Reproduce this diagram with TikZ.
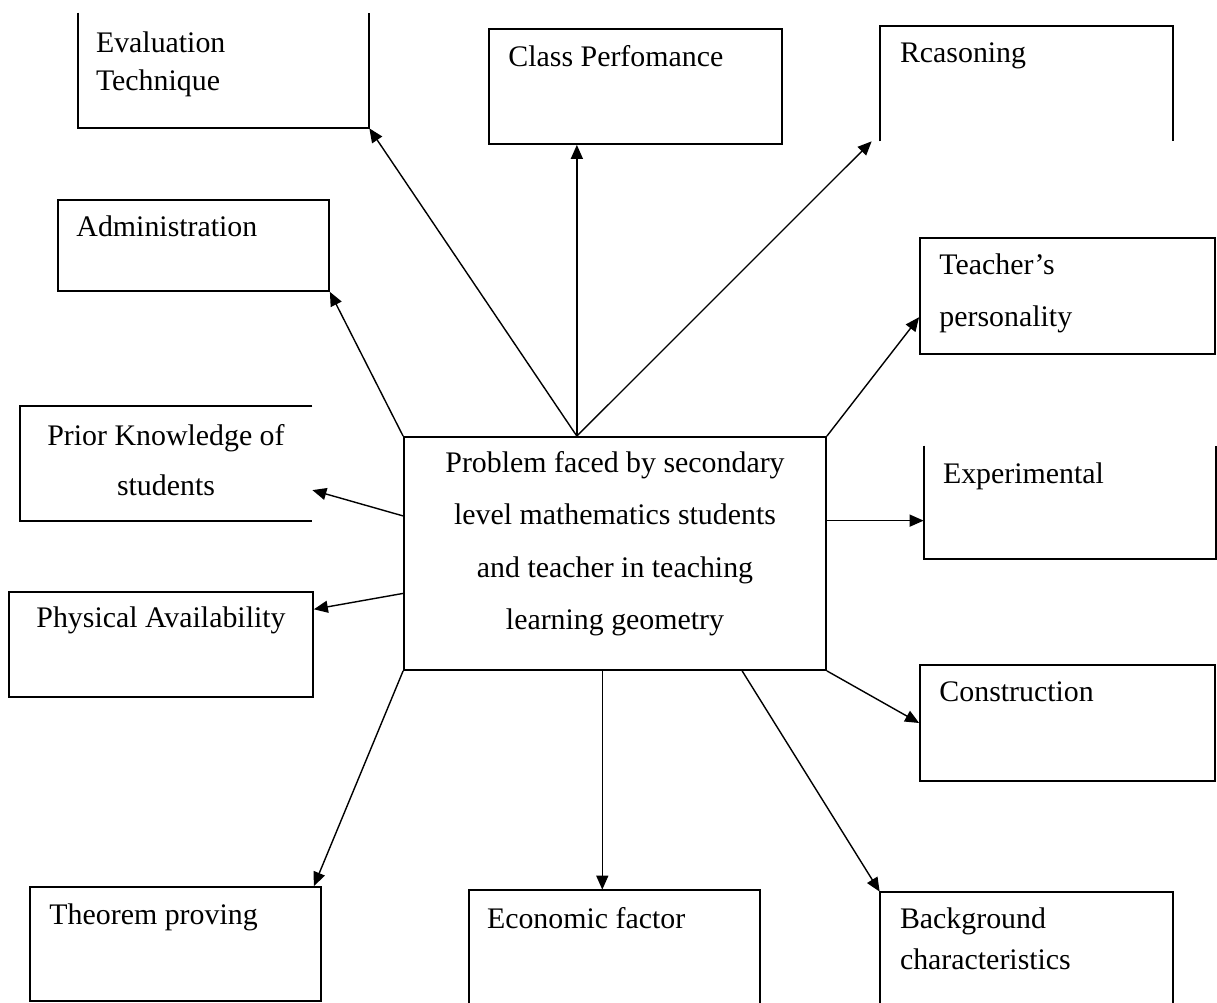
\documentclass[tikz,border=0pt]{standalone}
\usepackage{fontspec}
\setmainfont{Liberation Serif}
\usetikzlibrary{arrows.meta,calc,fit}
\begin{document}
\begin{tikzpicture}[x=0.02cm, y=-0.02cm,
   slot/.style={rectangle, inner sep=0pt, fit={#1}},
   card/.style={slot={#1}, draw, line width=1pt},
   rim/.style={line width=1pt},
   tag/.style={anchor=north west, inner sep=0pt, align=left, font=\fontsize{17pt}{#1}\selectfont},
   tag/.default=21pt,
   ctag/.style={anchor=north, inner sep=0pt, align=center, font=\fontsize{17pt}{#1}\selectfont},
   ctag/.default=21pt,
   link/.style={-{Triangle[length=2.8mm,width=2.4mm]}, line width=0.8pt}]

\useasboundingbox (0,0) rectangle (1217,1003);

\node[slot={(78,13) (369,128)}] (eval) {};
\draw[rim] (eval.north west) |- (eval.south east) -- (eval.north east);
\node[card={(489,29) (782,144)}] (class) {};
\node[slot={(880,26) (1173,141)}] (reason) {};
\draw[rim] (reason.south west) |- (reason.north east) -- (reason.south east);
\node[card={(58,200) (329,291)}] (admin) {};
\node[card={(920,238) (1215,354)}] (teacher) {};
\node[slot={(20,406) (312,521)}] (prior) {};
\draw[rim] (prior.north east) -| (prior.south west) -- (prior.south east);
\node[card={(404,437) (826,670)}] (prob) {};
\node[slot={(924,446) (1216,559)}] (exper) {};
\draw[rim] (exper.north west) |- (exper.south east) -- (exper.north east);
\node[card={(9,592) (313,697)}] (physical) {};
\node[card={(920,665) (1215,781)}] (construct) {};
\node[card={(30,887) (321,1001)}] (theorem) {};
\node[slot={(469,890) (760,1003)}] (econ) {};
\draw[rim] (econ.south west) |- (econ.north east) -- (econ.south east);
\node[slot={(880,892) (1173,1003)}] (backgr) {};
\draw[rim] (backgr.south west) |- (backgr.north east) -- (backgr.south east);

\node[tag=21.6pt] (eval-t) at ([shift={(18,18.5)}]eval.north west) {Evaluation\\Technique};
\node[tag] (class-t) at ([shift={(20,17.5)}]class.north west) {Class Perfomance};
\node[tag] (reason-t) at ([shift={(20,16.5)}]reason.north west) {Rcasoning};
\node[tag] (admin-t) at ([shift={(19,16.5)}]admin.north west) {Administration};
\node[tag=29.6pt] (teacher-t) at ([shift={(20,16.5)}]teacher.north west) {Teacher's\\personality};
\node[ctag=28.5pt] (prior-t) at ([shift={(0,18.5)}]prior.north) {Prior Knowledge of\\students};
\node[ctag=29.9pt] (prob-t) at ([shift={(0,14.5)}]prob.north) {Problem faced by secondary\\level mathematics students\\and teacher in teaching\\learning geometry};
\node[tag] (exper-t) at ([shift={(19,16.5)}]exper.north west) {Experimental};
\node[ctag] (physical-t) at ([shift={(0,15.5)}]physical.north) {Physical Availability};
\node[tag] (construct-t) at ([shift={(20,17.5)}]construct.north west) {Construction};
\node[tag] (theorem-t) at ([shift={(20,17.5)}]theorem.north west) {Theorem proving};
\node[tag] (econ-t) at ([shift={(18,17.5)}]econ.north west) {Economic factor};
\node[tag=23.3pt] (backgr-t) at ([shift={(20,15.5)}]backgr.north west) {Background\\characteristics};

\coordinate (up) at ($(prob.north west)!0.41!(prob.north east)$);
\coordinate (down) at ($(prob.south west)!0.47!(prob.south east)$);
\coordinate (out-r) at ($(prob.north east)!0.36!(prob.south east)$);

\draw[link] (up) -- (eval.south east);
\draw[link] (up) -- (up |- class.south);
\draw[link] (up) -- ($(reason.south west)+(-8,0)$);
\draw[link] (prob.north west) -- (admin.south east);
\draw[link] (prob.north east) -- ($(teacher.north west)!0.68!(teacher.south west)$);
\draw[link] ($(prob.north west)!0.34!(prob.south west)$) -- ($(prior.north east)!0.73!(prior.south east)$);
\draw[link] ($(prob.north west)!0.67!(prob.south west)$) -- ($(physical.north east)!0.17!(physical.south east)$);
\draw[link] (out-r) -- (out-r -| exper.west);
\draw[link] (prob.south east) -- (construct.west);
\draw[link] (prob.south west) -- ($(theorem.north east)+(-8,0)$);
\draw[link] (down) -- (down |- econ.north);
\draw[link] ($(prob.south west)!0.80!(prob.south east)$) -- (backgr.north west);

\end{tikzpicture}
\end{document}
